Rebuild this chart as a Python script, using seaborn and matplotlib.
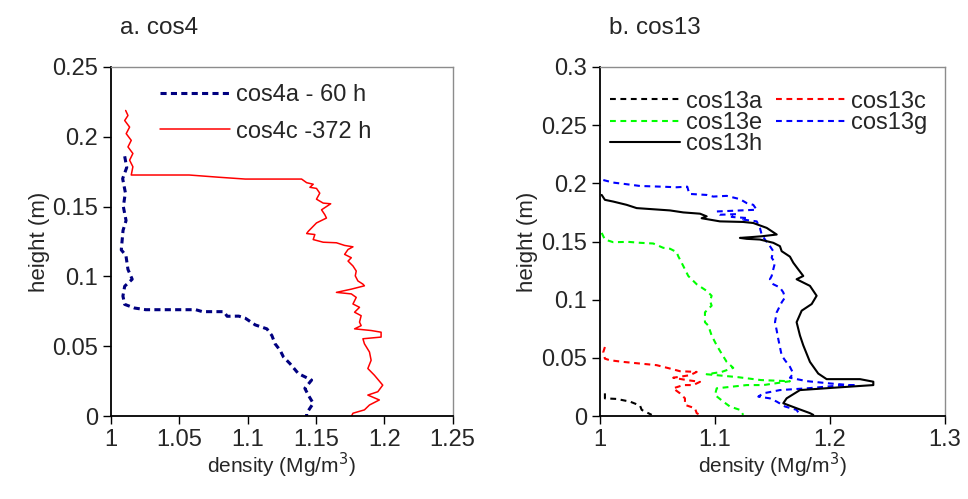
import matplotlib
matplotlib.use("Agg")
import matplotlib.pyplot as plt
import seaborn as sns

# ---- panel a: cos4 ----
cos4a_density = [1.010, 1.0115, 1.0085, 1.0105, 1.0090, 1.0110, 1.0088, 1.0075, 1.0109, 1.0124,
                 1.0155, 1.0100, 1.0087, 1.0100, 1.0172, 1.0254, 1.0620, 1.0669, 1.0826, 1.0850,
                 1.0935, 1.0983, 1.1056, 1.1141, 1.1177, 1.1201, 1.1238, 1.1262, 1.1310, 1.1371,
                 1.1468, 1.1419, 1.1444, 1.1480, 1.1432, 1.1432]
cos4a_height = [0.186, 0.178, 0.170, 0.160, 0.150, 0.140, 0.133, 0.119, 0.115, 0.105,
                0.098, 0.093, 0.086, 0.080, 0.0774, 0.0762, 0.0762, 0.0748, 0.0748, 0.0715,
                0.0716, 0.0701, 0.0653, 0.0625, 0.0578, 0.0518, 0.0471, 0.0424, 0.0376, 0.0305,
                0.0258, 0.0199, 0.0151, 0.0092, 0.0021, 0.0]

cos4c_density = [1.0107, 1.0124, 1.0100, 1.0136, 1.0111, 1.0148, 1.0124, 1.0160, 1.0136, 1.0160,
                 1.0148, 1.0572, 1.0790, 1.0983, 1.1395, 1.1432, 1.1480, 1.1456, 1.1504, 1.1528,
                 1.1504, 1.1553, 1.1608, 1.1541, 1.1565, 1.1577, 1.1504, 1.1468, 1.1444, 1.1432,
                 1.1492, 1.1480, 1.1553, 1.1650, 1.1710, 1.1771, 1.1735, 1.1710, 1.1759, 1.1735,
                 1.1771, 1.1795, 1.1788, 1.1807, 1.1844, 1.1855, 1.1759, 1.1650, 1.1759, 1.1795,
                 1.1771, 1.1819, 1.1783, 1.1831, 1.1819, 1.1831, 1.1783, 1.1904, 1.1977, 1.1977,
                 1.1844, 1.1855, 1.1892, 1.1904, 1.1880, 1.1928, 1.1989, 1.1953, 1.1880, 1.1964,
                 1.1892, 1.1855, 1.1771, 1.1760]
cos4c_height = [0.2188, 0.2152, 0.2116, 0.2069, 0.2022, 0.1974, 0.1927, 0.1880, 0.1832, 0.1785,
                0.1726, 0.1726, 0.1710, 0.1697, 0.1697, 0.1671, 0.1660, 0.1638, 0.1630, 0.1596,
                0.1553, 0.1525, 0.1520, 0.1477, 0.1442, 0.1418, 0.1383, 0.1347, 0.1323, 0.1307,
                0.1300, 0.1264, 0.1245, 0.1241, 0.1222, 0.1212, 0.1193, 0.1158, 0.1134, 0.1110,
                0.1075, 0.1039, 0.1004, 0.0968, 0.0945, 0.0933, 0.0909, 0.0886, 0.0875, 0.0850,
                0.0803, 0.0779, 0.0744, 0.0719, 0.0673, 0.0648, 0.0625, 0.0613, 0.0601, 0.0566,
                0.0554, 0.0518, 0.0459, 0.0400, 0.0341, 0.0293, 0.0222, 0.0175, 0.0151, 0.0116,
                0.0080, 0.0045, 0.0021, 0.0]

# ---- panel b: cos13 ----
cos13a_density = [1.0043, 1.0043, 1.0145, 1.0261, 1.0348, 1.0363, 1.0450]
cos13a_height = [0.0196, 0.0153, 0.0148, 0.0125, 0.0091, 0.0054, 0.0011]

cos13c_density = [1.0043, 1.0029, 1.0043, 1.0087, 1.0203, 1.0348, 1.0493, 1.0609, 1.0696, 1.0841,
                  1.0783, 1.0637, 1.0754, 1.0870, 1.0811, 1.0724, 1.0637, 1.0696, 1.0739, 1.0739,
                  1.0826, 1.0841, 1.0884]
cos13c_height = [0.0594, 0.0551, 0.0494, 0.0480, 0.0466, 0.0452, 0.0438, 0.0409, 0.0386, 0.0380,
                 0.0352, 0.0330, 0.0310, 0.0295, 0.0267, 0.0267, 0.0239, 0.0196, 0.0153, 0.0097,
                 0.0068, 0.0026, 0.0003]

cos13e_density = [1.0015, 1.0029, 1.0043, 1.0116, 1.0246, 1.0348, 1.0463, 1.0550, 1.0609, 1.0667,
                  1.0680, 1.0710, 1.0739, 1.0768, 1.0841, 1.0928, 1.0971, 1.0957, 1.0971, 1.0913,
                  1.0913, 1.0942, 1.0971, 1.1015, 1.1058, 1.1102, 1.1159, 1.1058, 1.0928, 1.1200,
                  1.1400, 1.1652, 1.1420, 1.1276, 1.1015, 1.1000, 1.1072, 1.1130, 1.1217, 1.1246]
cos13e_height = [0.1574, 0.1545, 0.1517, 0.1494, 0.1497, 0.1489, 0.1483, 0.1446, 0.1438, 0.1409,
                 0.1375, 0.1318, 0.1261, 0.1204, 0.1133, 0.1076, 0.1034, 0.0990, 0.0949, 0.0892,
                 0.0807, 0.0778, 0.0693, 0.0608, 0.0537, 0.0466, 0.0415, 0.0380, 0.0360, 0.0335,
                 0.0310, 0.0300, 0.0267, 0.0267, 0.0239, 0.0182, 0.0125, 0.0083, 0.0054, 0.0011]

cos13g_density = [1.0029, 1.0116, 1.0217, 1.0348, 1.0537, 1.0667, 1.0759, 1.0777, 1.0928, 1.0985,
                  1.1102, 1.1217, 1.1276, 1.1333, 1.1363, 1.1015, 1.1043, 1.1189, 1.1145, 1.1276,
                  1.1246, 1.1363, 1.1391, 1.1406, 1.1435, 1.1478, 1.1507, 1.1493, 1.1522, 1.1507,
                  1.1493, 1.1478, 1.1507, 1.1565, 1.1594, 1.1609, 1.1580, 1.1537, 1.1522, 1.1537,
                  1.1550, 1.1565, 1.1580, 1.1609, 1.1652, 1.1681, 1.1652, 1.1797, 1.2000, 1.2174,
                  1.2232, 1.2058, 1.1797, 1.1565, 1.1420, 1.1377, 1.1478, 1.1537, 1.1609, 1.1710,
                  1.1739]
cos13g_height = [0.2028, 0.2006, 0.1994, 0.1977, 0.1971, 0.1966, 0.1971, 0.1909, 0.1900, 0.1886,
                 0.1892, 0.1864, 0.1830, 0.1815, 0.1773, 0.1758, 0.1730, 0.1735, 0.1711, 0.1702,
                 0.1688, 0.1673, 0.1617, 0.1560, 0.1517, 0.1460, 0.1417, 0.1361, 0.1318, 0.1261,
                 0.1204, 0.1176, 0.1133, 0.1105, 0.1063, 0.1020, 0.0977, 0.0892, 0.0807, 0.0735,
                 0.0665, 0.0594, 0.0522, 0.0480, 0.0424, 0.0366, 0.0330, 0.0301, 0.0281, 0.0267,
                 0.0267, 0.0261, 0.0239, 0.0224, 0.0196, 0.0168, 0.0153, 0.0125, 0.0083, 0.0054,
                 0.0011]

cos13h_density = [1.0015, 1.0043, 1.0116, 1.0232, 1.0319, 1.0435, 1.0609, 1.0724, 1.0870, 1.0928,
                  1.0884, 1.1043, 1.1246, 1.1333, 1.1450, 1.1537, 1.1406, 1.1304, 1.1217, 1.1276,
                  1.1391, 1.1507, 1.1565, 1.1580, 1.1652, 1.1681, 1.1724, 1.1768, 1.1710, 1.1826,
                  1.1884, 1.1841, 1.1754, 1.1710, 1.1739, 1.1768, 1.1826, 1.1898, 1.1971, 1.2261,
                  1.2377, 1.2377, 1.2029, 1.1739, 1.1623, 1.1594, 1.1710, 1.1826, 1.1855]
cos13h_height = [0.1900, 0.1858, 0.1843, 0.1815, 0.1787, 0.1779, 0.1767, 0.1750, 0.1739, 0.1716,
                 0.1700, 0.1673, 0.1668, 0.1659, 0.1617, 0.1560, 0.1545, 0.1537, 0.1531, 0.1523,
                 0.1517, 0.1489, 0.1460, 0.1417, 0.1370, 0.1318, 0.1261, 0.1204, 0.1176, 0.1119,
                 0.1034, 0.0963, 0.0906, 0.0807, 0.0693, 0.0608, 0.0466, 0.0366, 0.0318, 0.0318,
                 0.0296, 0.0267, 0.0244, 0.0224, 0.0153, 0.0111, 0.0068, 0.0026, 0.0011]

xticks_a = [1, 1.05, 1.1, 1.15, 1.2, 1.25]
yticks_a = [0, 0.05, 0.1, 0.15, 0.2, 0.25]
xticks_b = [1, 1.1, 1.2, 1.3]
yticks_b = [0, 0.05, 0.1, 0.15, 0.2, 0.25, 0.3]

sns.set_style("white")
plt.rcParams['font.family'] = ['Liberation Sans', 'DejaVu Sans']

fig = plt.figure(figsize=(9.68, 4.99), dpi=100)
ax1 = fig.add_axes([0.1147, 0.166, 0.3528, 0.700])
ax2 = fig.add_axes([0.6198, 0.166, 0.3564, 0.700])

dot_a = (0, (2, 1.4))
dot_b = (0, (2.8, 2.2))

# panel a
sns.lineplot(x=cos4a_density, y=cos4a_height, sort=False, estimator=None, ax=ax1,
             color="#000080", linewidth=2.2, linestyle=dot_a, label="cos4a - 60 h")
sns.lineplot(x=cos4c_density, y=cos4c_height, sort=False, estimator=None, ax=ax1,
             color="#ff0000", linewidth=1.1, label="cos4c -372 h")

# panel b
sns.lineplot(x=cos13a_density, y=cos13a_height, sort=False, estimator=None, ax=ax2,
             color="black", linewidth=1.5, linestyle=dot_b, label="cos13a")
sns.lineplot(x=cos13c_density, y=cos13c_height, sort=False, estimator=None, ax=ax2,
             color="#ff0000", linewidth=1.5, linestyle=dot_b, label="cos13c")
sns.lineplot(x=cos13e_density, y=cos13e_height, sort=False, estimator=None, ax=ax2,
             color="#00ff00", linewidth=1.5, linestyle=dot_b, label="cos13e")
sns.lineplot(x=cos13g_density, y=cos13g_height, sort=False, estimator=None, ax=ax2,
             color="#0000ff", linewidth=1.5, linestyle=dot_b, label="cos13g")
sns.lineplot(x=cos13h_density, y=cos13h_height, sort=False, estimator=None, ax=ax2,
             color="black", linewidth=1.5, label="cos13h")


def fmt(v):
    return f"{v:g}"


for ax, xt, yt in [(ax1, xticks_a, yticks_a), (ax2, xticks_b, yticks_b)]:
    ax.set_xlim(xt[0], xt[-1])
    ax.set_ylim(yt[0], yt[-1])
    ax.set_xticks(xt)
    ax.set_yticks(yt)
    ax.set_xticklabels([fmt(v) for v in xt], fontsize=17)
    ax.set_yticklabels([fmt(v) for v in yt], fontsize=17)
    ax.tick_params(axis="both", direction="out", length=6, width=1, color="black",
                   left=True, bottom=True, pad=3.5)
    for s in ["left", "bottom"]:
        ax.spines[s].set_color("black")
        ax.spines[s].set_linewidth(1.3)
    for s in ["top", "right"]:
        ax.spines[s].set_color("#8c8c8c")
        ax.spines[s].set_linewidth(1)
    ax.set_xlabel("density (Mg/m$^3$)", fontsize=15)
    ax.set_ylabel("height (m)", fontsize=16)
    ax.xaxis.set_label_coords(0.5, -0.10)
    ax.yaxis.set_label_coords(-0.18, 0.5)

ax1.text(0.025, 1.11, "a. cos4", transform=ax1.transAxes, fontsize=17.5, va="center", ha="left")
ax2.text(0.025, 1.11, "b. cos13", transform=ax2.transAxes, fontsize=17.5, va="center", ha="left")

ax1.legend(loc="upper left", bbox_to_anchor=(0.1435, 0.951), frameon=False, fontsize=17,
           handlelength=2.95, handletextpad=0.25, labelspacing=0.62, borderpad=0, borderaxespad=0)

h, l = ax2.get_legend_handles_labels()
order = [0, 2, 4, 1, 3]
ax2.legend([h[i] for i in order], [l[i] for i in order], ncol=2, loc="upper left",
           bbox_to_anchor=(0.029, 0.932), frameon=False, fontsize=17, handlelength=2.95,
           handletextpad=0.25, labelspacing=-0.03, columnspacing=0.6, borderpad=0, borderaxespad=0)

plt.savefig("out.png", dpi=100)
plt.close()
